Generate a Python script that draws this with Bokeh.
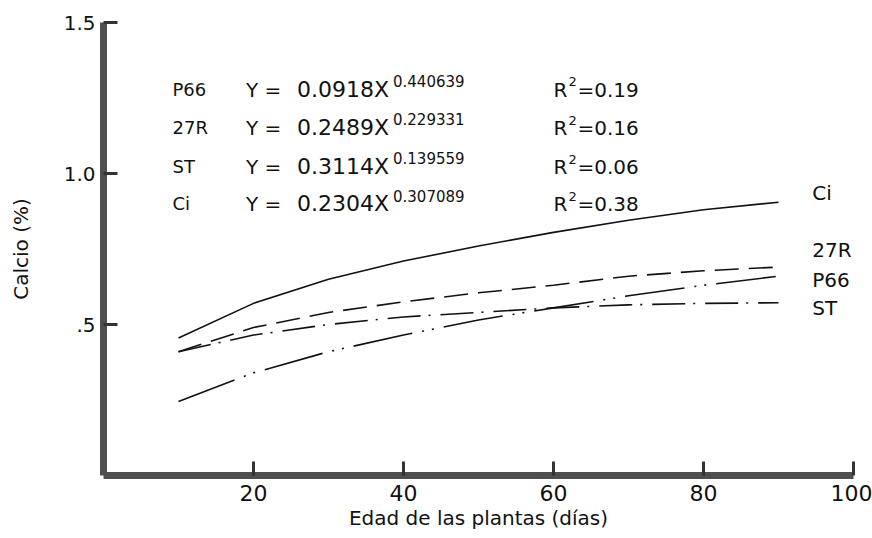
from bokeh.plotting import figure
from bokeh.models import Range1d, FixedTicker, Label
from bokeh.embed import file_html
from bokeh.resources import INLINE

# ---- data ----
dias = [10, 20, 30, 40, 50, 60, 70, 80, 90]
ci = [0.455, 0.57, 0.65, 0.71, 0.76, 0.805, 0.845, 0.88, 0.905]
r27 = [0.41, 0.49, 0.54, 0.575, 0.605, 0.63, 0.66, 0.678, 0.69]
st = [0.41, 0.465, 0.50, 0.525, 0.54, 0.555, 0.565, 0.57, 0.572]
p66 = [0.245, 0.34, 0.41, 0.465, 0.515, 0.555, 0.595, 0.63, 0.66]

series_names = ["P66", "27R", "ST", "Ci"]
coefs = ["0.0918X", "0.2489X", "0.3114X", "0.2304X"]
exponents = ["0.440639", "0.229331", "0.139559", "0.307089"]
r2_values = ["0.19", "0.16", "0.06", "0.38"]

x_ticks = [20, 40, 60, 80, 100]
y_ticks = [0.5, 1.0, 1.5]
y_tick_labels = {0.5: ".5", 1.0: "1.0", 1.5: "1.5"}

FONT = "DejaVu Sans"
INK = "#111111"

p = figure(width=872, height=538, output_backend="svg", toolbar_location=None,
           x_range=Range1d(0, 100), y_range=Range1d(0, 1.5),
           min_border_left=103, min_border_right=19, min_border_top=22,
           min_border_bottom=63)
p.outline_line_color = None
p.grid.visible = False
p.background_fill_color = "white"
p.border_fill_color = "white"

# curves
p.line(dias, ci, line_color=INK, line_width=1.6)
p.line(dias, r27, line_color=INK, line_width=1.6, line_dash="24 10")
p.line(dias, st, line_color=INK, line_width=1.6, line_dash="33 8 2 10")
p.line(dias, p66, line_color=INK, line_width=1.6, line_dash="60 10 2 8 2 10")

# axes
for ax in (p.xaxis[0], p.yaxis[0]):
    ax.axis_line_color = "#4f4f4f"
    ax.axis_line_width = 7
    ax.major_tick_line_color = "#333333"
    ax.major_tick_line_width = 3
    ax.major_tick_in = 14
    ax.major_tick_out = 0
    ax.minor_tick_line_color = None
    ax.major_label_text_font = FONT
    ax.major_label_text_color = INK
    ax.axis_label_text_font = FONT
    ax.axis_label_text_font_style = "normal"
    ax.axis_label_text_color = INK

p.xaxis.ticker = FixedTicker(ticks=x_ticks)
p.xaxis.major_label_text_font_size = "22px"
p.xaxis.major_label_standoff = 9
p.xaxis.axis_label = "Edad de las plantas (días)"
p.xaxis.axis_label_text_font_size = "20px"
p.xaxis.axis_label_standoff = 2

p.yaxis.ticker = FixedTicker(ticks=y_ticks)
p.yaxis.major_label_overrides = y_tick_labels
p.yaxis.major_label_text_font_size = "20px"
p.yaxis.major_label_standoff = 8
p.yaxis.axis_label = "Calcio (%)"
p.yaxis.axis_label_text_font_size = "20px"
p.yaxis.axis_label_standoff = 28

# equation block (layout positions in data units)
row_y = [1.278, 1.152, 1.023, 0.900]
col_name, col_eq, col_coef, col_exp = 9.2, 19.0, 25.8, 38.6
col_r, col_r2, col_rv = 60.0, 62.0, 63.2
for i in range(4):
    y = row_y[i]
    p.add_layout(Label(x=col_name, y=y, text=series_names[i], text_font=FONT,
                       text_font_size="18px", text_baseline="middle", text_color=INK))
    p.add_layout(Label(x=col_eq, y=y, text="Y =", text_font=FONT,
                       text_font_size="20px", text_baseline="middle", text_color=INK))
    p.add_layout(Label(x=col_coef, y=y, text=coefs[i], text_font=FONT,
                       text_font_size="22px", text_baseline="middle", text_color=INK))
    p.add_layout(Label(x=col_exp, y=y + 0.027, text=exponents[i], text_font=FONT,
                       text_font_size="15px", text_baseline="middle", text_color=INK))
    p.add_layout(Label(x=col_r, y=y, text="R", text_font=FONT,
                       text_font_size="20px", text_baseline="middle", text_color=INK))
    p.add_layout(Label(x=col_r2, y=y + 0.025, text="2", text_font=FONT,
                       text_font_size="13px", text_baseline="middle", text_color=INK))
    p.add_layout(Label(x=col_rv, y=y, text="=" + r2_values[i], text_font=FONT,
                       text_font_size="20px", text_baseline="middle", text_color=INK))

# curve end labels
end_names = ["Ci", "27R", "P66", "ST"]
end_label_y = [0.937, 0.748, 0.646, 0.556]
for name, y in zip(end_names, end_label_y):
    p.add_layout(Label(x=94.5, y=y, text=name, text_font=FONT, text_font_size="20px",
                       text_baseline="middle", text_color=INK))

open("out.html", "w").write(file_html(p, INLINE))
